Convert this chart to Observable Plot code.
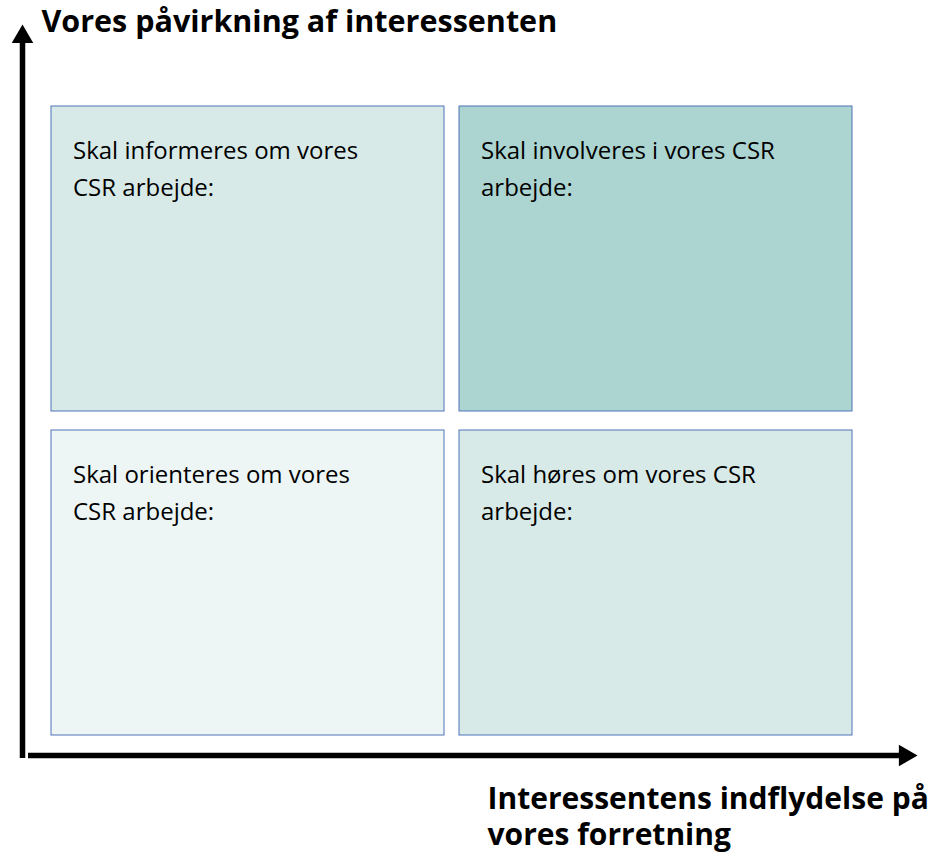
<!DOCTYPE html>
<html>
<head>
<meta charset="utf-8">
<script src="https://cdn.jsdelivr.net/npm/d3@7"></script>
<script src="https://cdn.jsdelivr.net/npm/@observablehq/plot@0.6"></script>
<style>
  html, body { margin: 0; padding: 0; background: #fff; }
  #chart svg { display: block; }
</style>
</head>
<body>
<div id="chart"></div>
<script>
// Quadrant data
const quadrantLabels = [
  "Skal informeres om vores\nCSR arbejde:",
  "Skal involveres i vores CSR\narbejde:",
  "Skal orienteres om vores\nCSR arbejde:",
  "Skal høres om vores CSR\narbejde:"
];
const quadrantCol = [0, 1, 0, 1];   // 0 = left (low influence), 1 = right (high)
const quadrantRow = [1, 1, 0, 0];   // 0 = bottom (low), 1 = top (high)
const quadrantLevel = ["medium", "high", "low", "medium"];

const yAxisTitle = "Vores påvirkning af interessenten";
const xAxisTitle = "Interessentens indflydelse på\nvores forretning";

const quads = quadrantLabels.map((label, i) => ({
  label, col: quadrantCol[i], row: quadrantRow[i], level: quadrantLevel[i]
}));

const chart = Plot.plot({
  width: 943,
  height: 856,
  margin: 0,
  style: { fontFamily: "'Open Sans', Lato, sans-serif", background: "#fff" },
  x: { domain: [0, 2], range: [43.5, 859.5], axis: null },
  y: { domain: [0, 2], range: [744.5, 96.5], axis: null },
  color: { domain: ["low", "medium", "high"], range: ["#edf6f5", "#d8eae7", "#acd5d1"] },
  marks: [
    Plot.rect(quads, {
      x1: "col", x2: d => d.col + 1, y1: "row", y2: d => d.row + 1,
      fill: "level", stroke: "#4f72b8", strokeWidth: 1,
      inset: 0, insetLeft: 7.5, insetRight: 7.5, insetTop: 9.5, insetBottom: 9.5
    }),
    Plot.text(quads, {
      x: "col", y: d => d.row + 1, text: "label",
      textAnchor: "start", lineAnchor: "top",
      dx: 29, dy: 36, fontSize: 24, lineHeight: 1.54, fill: "#000"
    }),
    // vertical axis arrow
    Plot.ruleX([0], { dx: -21.5, y1: 2, y2: 0, insetTop: -54.5, insetBottom: -13.5, stroke: "#000", strokeWidth: 5.5 }),
    Plot.dot([0], { x: 0, y: 2, dx: -21.5, dy: -60.1, symbol: "triangle", r: 8, fill: "#000", stroke: null }),
    // horizontal axis arrow
    Plot.ruleY([0], { dy: 10.5, x1: 0, x2: 2, insetLeft: -15.5, insetRight: -40.5, stroke: "#000", strokeWidth: 5.5 }),
    Plot.dot([0], { x: 2, y: 0, dx: 45.1, dy: 10.5, symbol: "triangle", rotate: 90, r: 8, fill: "#000", stroke: null }),
    // axis titles
    Plot.text([yAxisTitle], {
      frameAnchor: "top-left", dx: 41, dy: 31, text: d => d,
      textAnchor: "start", lineAnchor: "bottom",
      fontSize: 30.5, fontWeight: "bold", fill: "#000"
    }),
    Plot.text([xAxisTitle], {
      frameAnchor: "top-left", dx: 487, dy: 782.5, text: d => d,
      textAnchor: "start", lineAnchor: "top",
      fontSize: 30, fontWeight: "bold", lineHeight: 1.2, fill: "#000"
    })
  ]
});
document.getElementById("chart").appendChild(chart);
</script>
</body>
</html>
